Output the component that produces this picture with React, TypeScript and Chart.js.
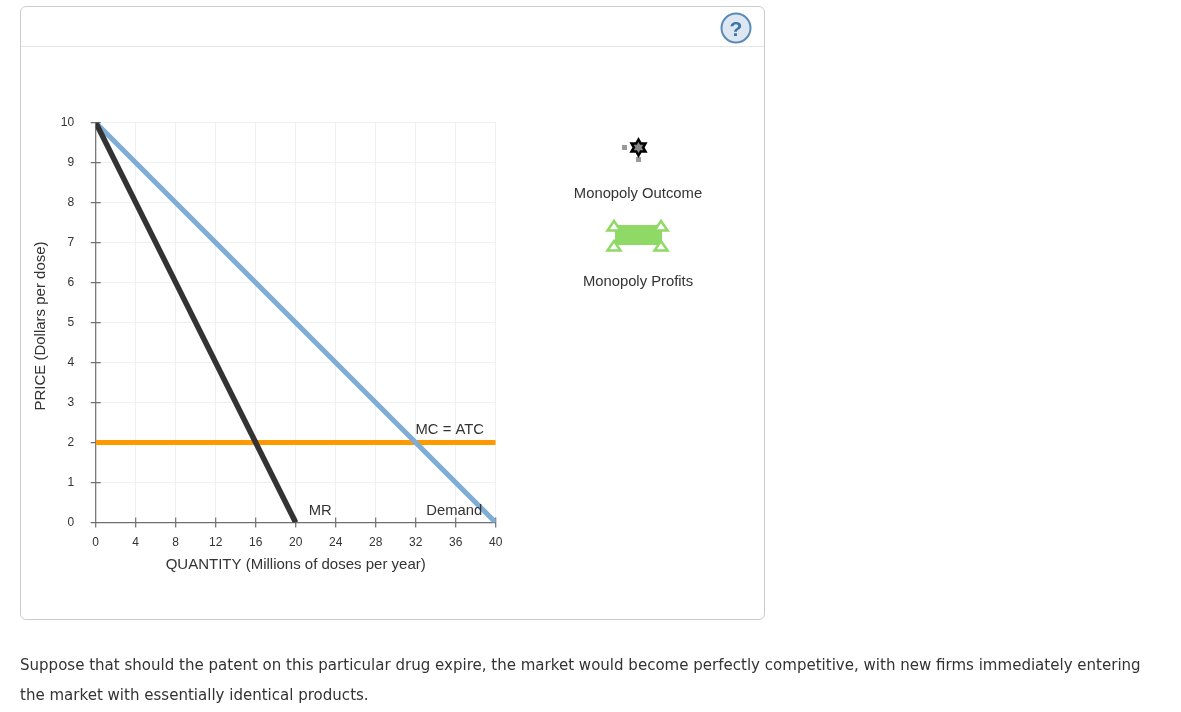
import React, { useEffect, useRef } from "react";
import { Chart, registerables } from "chart.js";

Chart.register(...registerables);

const quantityTicks = [0, 4, 8, 12, 16, 20, 24, 28, 32, 36, 40];
const demandQuantity = [0, 40];
const demandPrice = [10, 0];
const mrQuantity = [0, 20];
const mrPrice = [10, 0];
const mcQuantity = [0, 40];
const mcPrice = [2, 2];
const curveLabels = [
  { text: "MC = ATC", x: 35.4, y: 2.32 },
  { text: "MR", x: 22.45, y: 0.3 },
  { text: "Demand", x: 35.85, y: 0.3 },
];
const paragraphLines = [
  "Suppose that should the patent on this particular drug expire, the market would become perfectly competitive, with new firms immediately entering",
  "the market with essentially identical products.",
];

const FONT = "'Liberation Sans', Arial, sans-serif";
const TEXT = "#333333";
const AXIS = "#707070";
const LABEL_PX = 14.8;

const toPoints = (xs: number[], ys: number[]) => xs.map((x, i) => ({ x, y: ys[i] }));

const axisPlugin = {
  id: "crossAxes",
  beforeDatasetsDraw(chart: any) {
    const { ctx, scales } = chart;
    const xs = scales.x;
    const ys = scales.y;
    const x0 = xs.getPixelForValue(0);
    const y0 = ys.getPixelForValue(0);
    ctx.save();
    ctx.strokeStyle = AXIS;
    ctx.lineWidth = 1.2;
    ctx.beginPath();
    ctx.moveTo(x0, ys.getPixelForValue(10));
    ctx.lineTo(x0, y0);
    ctx.moveTo(x0, y0);
    ctx.lineTo(xs.getPixelForValue(40), y0);
    xs.ticks.forEach((t: any) => {
      const p = xs.getPixelForValue(t.value);
      ctx.moveTo(p, y0 - 5);
      ctx.lineTo(p, y0 + 5);
    });
    ys.ticks.forEach((t: any) => {
      const p = ys.getPixelForValue(t.value);
      ctx.moveTo(x0 - 5, p);
      ctx.lineTo(x0 + 5, p);
    });
    ctx.stroke();
    ctx.restore();
  },
  afterDatasetsDraw(chart: any) {
    const { ctx, scales } = chart;
    ctx.save();
    ctx.font = `${LABEL_PX}px ${FONT}`;
    ctx.fillStyle = TEXT;
    ctx.textAlign = "center";
    ctx.textBaseline = "middle";
    curveLabels.forEach((l) => {
      ctx.fillText(l.text, scales.x.getPixelForValue(l.x), scales.y.getPixelForValue(l.y));
    });
    ctx.translate(41, 326);
    ctx.rotate(-Math.PI / 2);
    ctx.font = `15px ${FONT}`;
    ctx.fillText("PRICE (Dollars per dose)", 0, 0);
    ctx.restore();
  },
};

export default function App() {
  const ref = useRef<HTMLCanvasElement>(null);
  useEffect(() => {
    document.body.style.margin = "0";
    const chart = new Chart(ref.current as HTMLCanvasElement, {
      type: "scatter",
      data: {
        datasets: [
          { label: "MR", data: toPoints(mrQuantity, mrPrice), borderColor: "#333333", borderWidth: 5.5, showLine: true, pointRadius: 0 },
          { label: "Demand", data: toPoints(demandQuantity, demandPrice), borderColor: "#7FADD6", borderWidth: 5, showLine: true, pointRadius: 0 },
          { label: "MC = ATC", data: toPoints(mcQuantity, mcPrice), borderColor: "#FF9900", borderWidth: 5, showLine: true, pointRadius: 0 },
        ],
      },
      options: {
        animation: false,
        responsive: false,
        layout: { padding: { left: 0, top: 122.6, right: 685.3, bottom: 0 } },
        plugins: { legend: { display: false }, tooltip: { enabled: false } },
        scales: {
          x: {
            type: "linear",
            min: 0,
            max: 40,
            afterFit: (s: any) => { s.height = 189.4; },
            afterBuildTicks: (s: any) => { s.ticks = quantityTicks.map((value) => ({ value })); },
            grid: { color: "#f1f1f1", lineWidth: 1, tickLength: 5, tickColor: "rgba(0,0,0,0)" },
            border: { display: false },
            ticks: { color: TEXT, font: { family: FONT, size: 12 }, padding: 7.5, maxRotation: 0, autoSkip: false },
            title: { display: true, text: "QUANTITY (Millions of doses per year)", color: TEXT, font: { family: FONT, size: 15 }, padding: { top: 0, bottom: 138 } },
          },
          y: {
            type: "linear",
            min: 0,
            max: 10,
            afterFit: (s: any) => { s.width = 95.7; },
            grid: { color: "#f1f1f1", lineWidth: 1, tickLength: 5, tickColor: "rgba(0,0,0,0)" },
            border: { display: false },
            ticks: { stepSize: 1, color: TEXT, font: { family: FONT, size: 12 }, padding: 16.5, autoSkip: false },
          },
        },
      },
      plugins: [axisPlugin],
    } as any);
    return () => chart.destroy();
  }, []);

  const green = "#8FD966";
  const tri = (x: number, y: number) => `${x},${y} ${x - 6.5},${y + 9.5} ${x + 6.5},${y + 9.5}`;
  const starCx = 638.5;
  const starCy = 147.5;
  const star = Array.from({ length: 12 }, (_, i) => {
    const r = i % 2 === 0 ? 8 : 4.6;
    const a = (i * Math.PI) / 6 - Math.PI / 2;
    return `${starCx + r * Math.cos(a)},${starCy + r * Math.sin(a)}`;
  }).join(" ");
  return (
    <div style={{ position: "relative", width: 1181, height: 712, overflow: "hidden", background: "#fff" }}>
      <div style={{ position: "absolute", left: 20, top: 6, width: 743, height: 612, border: "1px solid #cccccc", borderRadius: 6, boxSizing: "content-box" }} />
      <div style={{ position: "absolute", left: 21, top: 46, width: 743, height: 1, background: "#e4e4e4" }} />
      <canvas ref={ref} width={1181} height={712} style={{ position: "absolute", left: 0, top: 0, display: "block" }} />
      <svg width={1181} height={712} style={{ position: "absolute", left: 0, top: 0, pointerEvents: "none" }}>
        <circle cx={736} cy={28} r={14.5} fill="#dde7f2" stroke="#5b8ab8" strokeWidth={2} />
        <text x={736} y={35.5} textAnchor="middle" fontFamily={FONT} fontSize={21} fontWeight="bold" fill="#3a74aa">?</text>
        <rect x={622} y={145} width={5} height={5} fill="#9a9a9a" />
        <rect x={636} y={157} width={5} height={5} fill="#9a9a9a" />
        <polygon points={star} fill="#888" stroke="#000" strokeWidth={2.5} />
        <rect x={615} y={225} width={47} height={20} fill={green} />
        <polygon points={tri(614, 221)} fill="#fff" stroke={green} strokeWidth={2.5} />
        <polygon points={tri(661, 221)} fill="#fff" stroke={green} strokeWidth={2.5} />
        <polygon points={tri(614, 241)} fill="#fff" stroke={green} strokeWidth={2.5} />
        <polygon points={tri(661, 241)} fill="#fff" stroke={green} strokeWidth={2.5} />
      </svg>
      <div style={{ position: "absolute", left: 538, width: 200, top: 185, textAlign: "center", font: `${LABEL_PX}px ${FONT}`, color: TEXT }}>Monopoly Outcome</div>
      <div style={{ position: "absolute", left: 538, width: 200, top: 273, textAlign: "center", font: `${LABEL_PX}px ${FONT}`, color: TEXT }}>Monopoly Profits</div>
      {paragraphLines.map((line, i) => (
        <div key={i} style={{ position: "absolute", left: 20, top: 650 + i * 30, whiteSpace: "nowrap", font: "15.04px/30px 'DejaVu Sans', sans-serif", color: "#333333" }}>{line}</div>
      ))}
    </div>
  );
}
